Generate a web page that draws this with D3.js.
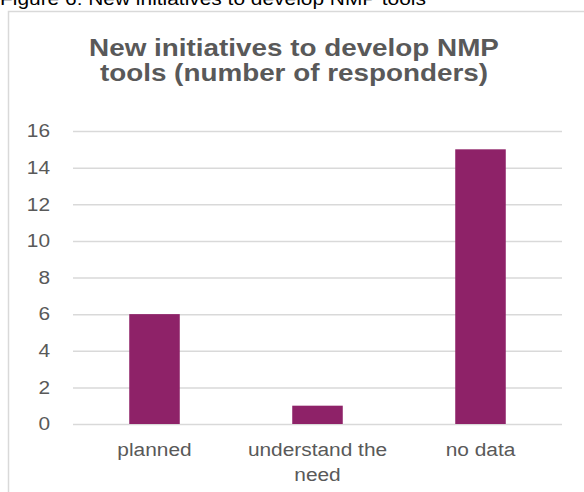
<!DOCTYPE html>
<html>
<head>
<meta charset="utf-8">
<script src="https://cdn.jsdelivr.net/npm/d3@7"></script>
<style>
  body { margin: 0; background: #fff; }
  text { font-family: "Liberation Sans", Arial, sans-serif; }
</style>
</head>
<body>
<svg id="chart"></svg>
<script>
// Chart data
const categories = ["planned", "understand the need", "no data"];
const responders = [6, 1, 15];
const yTicks = [0, 2, 4, 6, 8, 10, 12, 14, 16];
const titleLines = ["New initiatives to develop NMP", "tools (number of responders)"];
const captionText = "Figure 6: New initiatives to develop NMP tools";

const barColour = "#8e2268";
const textColour = "#595959";
const gridColour = "#d9d9d9";

const width = 584;
const height = 492;
const plot = { left: 73, right: 562, top: 131, bottom: 424 };

// The source picture is a little wider than tall, so text is stretched sideways
const stretch = 1.16;
const stretchAt = (cx, s) => `translate(${cx},0) scale(${s},1) translate(${-cx},0)`;

const svg = d3.select("#chart")
    .attr("width", width)
    .attr("height", height);

// Caption above the chart (cut off at the top of the page)
svg.append("text")
    .attr("x", 0)
    .attr("y", 5)
    .attr("font-size", "19px")
    .attr("fill", "#000")
    .attr("transform", stretchAt(0, 1.1))
    .text(captionText);

// Chart border, runs off the right and bottom edges
svg.append("rect")
    .attr("x", 8.5)
    .attr("y", 11.5)
    .attr("width", 700)
    .attr("height", 600)
    .attr("fill", "none")
    .attr("stroke", gridColour)
    .attr("stroke-width", 1.5);

// Title
svg.append("text")
    .attr("text-anchor", "middle")
    .attr("font-size", "24px")
    .attr("font-weight", "bold")
    .attr("fill", textColour)
    .attr("transform", stretchAt(294, stretch))
    .selectAll("tspan")
    .data(titleLines)
    .join("tspan")
    .attr("x", 294)
    .attr("y", (d, i) => 56 + i * 25)
    .text(d => d);

// Scales
const xScale = d3.scaleBand()
    .domain(categories)
    .range([plot.left, plot.right]);

const yScale = d3.scaleLinear()
    .domain([0, 16])
    .range([plot.bottom, plot.top]);

// Y axis with gridlines
const yAxis = d3.axisLeft(yScale)
    .tickValues(yTicks)
    .tickSizeInner(-(plot.right - plot.left))
    .tickSizeOuter(0)
    .tickPadding(23);

const yG = svg.append("g")
    .attr("transform", `translate(${plot.left}, 0)`)
    .call(yAxis);

yG.select(".domain").remove();
yG.selectAll(".tick line")
    .attr("stroke", gridColour)
    .attr("stroke-width", 1.5);
yG.selectAll(".tick text")
    .attr("fill", textColour)
    .attr("font-size", "18px")
    .attr("font-family", "'Liberation Sans', Arial, sans-serif")
    .attr("transform", stretchAt(-23, stretch));

// Bars
const barWidth = xScale.bandwidth() * 0.31;

svg.selectAll("rect.bar")
    .data(responders)
    .join("rect")
    .attr("class", "bar")
    .attr("x", (d, i) => xScale(categories[i]) + xScale.bandwidth() / 2 - barWidth / 2)
    .attr("y", d => yScale(d))
    .attr("width", barWidth)
    .attr("height", d => yScale(0) - yScale(d))
    .attr("fill", barColour);

// X axis labels, wrapped to the band width
const xAxis = d3.axisBottom(xScale).tickSize(0).tickPadding(0);
const xG = svg.append("g")
    .attr("transform", `translate(0, ${plot.bottom})`)
    .call(xAxis);

xG.select(".domain").remove();
xG.selectAll(".tick text")
    .attr("fill", textColour)
    .attr("font-size", "18px")
    .attr("font-family", "'Liberation Sans', Arial, sans-serif")
    .attr("dy", null)
    .attr("y", 32)
    .attr("transform", stretchAt(0, stretch))
    .each(function (d) {
        const t = d3.select(this);
        const words = d.split(" ");
        const lines = [];
        let line = [];
        t.text(null);
        const probe = t.append("tspan");
        words.forEach(w => {
            line.push(w);
            probe.text(line.join(" "));
            if (probe.node().getComputedTextLength() > 132 && line.length > 1) {
                line.pop();
                lines.push(line.join(" "));
                line = [w];
            }
        });
        lines.push(line.join(" "));
        probe.remove();
        lines.forEach((l, i) => {
            t.append("tspan")
                .attr("x", 0)
                .attr("y", 32 + i * 25)
                .text(l);
        });
    });
</script>
</body>
</html>
